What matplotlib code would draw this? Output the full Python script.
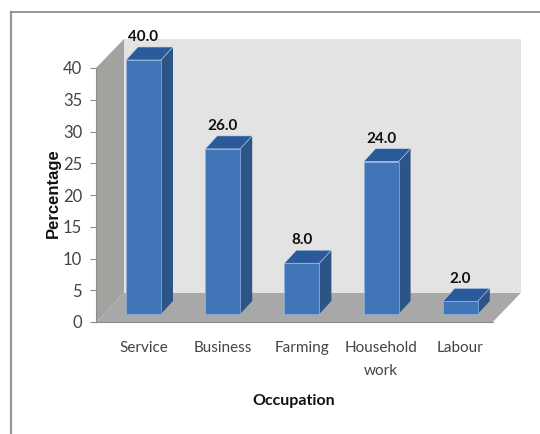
import matplotlib
matplotlib.use("Agg")
import matplotlib.pyplot as plt
from matplotlib.lines import Line2D
from matplotlib.patches import Polygon

categories = ["Service", "Business", "Farming", "Household\nwork", "Labour"]
values = [40.0, 26.0, 8.0, 24.0, 2.0]
y_ticks = [0, 5, 10, 15, 20, 25, 30, 35, 40]

W, H = 540, 434
# pixels per unit on each axis, and where index 0 / value 0 sit
PX_X, PX_Y = 79.2, 6.35
X0, Y0 = 143.5, 322

NARROW = "Lato"

fig = plt.figure(figsize=(W / 100, H / 100), dpi=100)
ax = fig.add_axes([0, 0, 1, 1])
ax.set_xlim(-X0 / PX_X, (W - X0) / PX_X)
ax.set_ylim((Y0 - H) / PX_Y, Y0 / PX_Y)
ax.patch.set_visible(False)


def dx(px):
    return px / PX_X


def dy(px):
    return px / PX_Y


# walls and floor
left = -dx(47.5)
right = len(values) - 1 + dx(32.5)
wall_dx, wall_dy = dx(28), dy(29)
top = max(y_ticks)
ax.add_patch(Polygon([(left + wall_dx, wall_dy), (right + wall_dx, wall_dy),
                      (right + wall_dx, top + wall_dy), (left + wall_dx, top + wall_dy)],
                     fc="#e3e3e3", ec="none", zorder=1))
ax.add_patch(Polygon([(left, 0), (left, top), (left + wall_dx, top + wall_dy), (left + wall_dx, wall_dy)],
                     fc="#a2a29f", ec="none", zorder=2))
ax.add_patch(Polygon([(left, 0), (right, 0), (right + wall_dx, wall_dy), (left + wall_dx, wall_dy)],
                     fc="#a8a8a8", ec="none", zorder=2))

# bars
bar_w = dx(35)
base = dy(8)
depth_x, depth_y = dx(12), dy(13)
for i, v in enumerate(values):
    x1, x2 = i - bar_w / 2, i + bar_w / 2
    y1, y2 = base, base + v
    ax.add_patch(Polygon([(x1, y1), (x2, y1), (x2, y2), (x1, y2)],
                         fc="#4075b8", ec="#8fb4dc", lw=0.5, zorder=5))
    ax.add_patch(Polygon([(x2, y1), (x2 + depth_x, y1 + depth_y), (x2 + depth_x, y2 + depth_y), (x2, y2)],
                         fc="#2d5487", ec="none", zorder=4))
    ax.add_patch(Polygon([(x1, y2), (x2, y2), (x2 + depth_x, y2 + depth_y), (x1 + depth_x, y2 + depth_y)],
                         fc="#2a5a99", ec="#c5d8ec", lw=0.4, zorder=4))
    ax.annotate(f"{v:.1f}", (i, y2 + depth_y), xytext=(0, 7), textcoords="offset points",
                ha="center", va="center", fontsize=11, fontweight="bold",
                family=NARROW, color="#111111", zorder=6)

# axes
for name in ["top", "right"]:
    ax.spines[name].set_visible(False)
ax.spines["left"].set_position(("data", left))
ax.spines["left"].set_bounds(0, top)
ax.spines["left"].set_color("#8c8c8c")
ax.spines["bottom"].set_position(("data", 0))
ax.spines["bottom"].set_bounds(left, right)
ax.spines["bottom"].set_color("#8c8c8c")
ax.set_yticks(y_ticks)
ax.set_xticks(range(len(categories)))
ax.set_xticklabels(categories, family=NARROW, fontsize=11, color="#444444", linespacing=1.75)
ax.tick_params(axis="x", length=0, pad=14)
ax.tick_params(axis="y", length=4, color="#8c8c8c", pad=6, labelsize=12, labelcolor="#444444")
for label in ax.get_yticklabels():
    label.set_family(NARROW)

ax.text(2 - dx(8), -dy(79), "Occupation", ha="center", va="center", fontsize=11.5,
        fontweight="bold", family=NARROW, color="#111111")
ax.text(-dx(90), dy(129), "Percentage", ha="center", va="center", rotation=90,
        fontsize=12, fontweight="bold", family="Liberation Sans", color="#111111")

# outer frame of the picture
fig.add_artist(Line2D([10.5 / W, 10.5 / W], [0, 1 - 12 / H], color="#9a9a9a", lw=1.6))
fig.add_artist(Line2D([10.5 / W, 1], [1 - 12 / H, 1 - 12 / H], color="#858585", lw=1.2))

fig.savefig("out.png", dpi=100)
